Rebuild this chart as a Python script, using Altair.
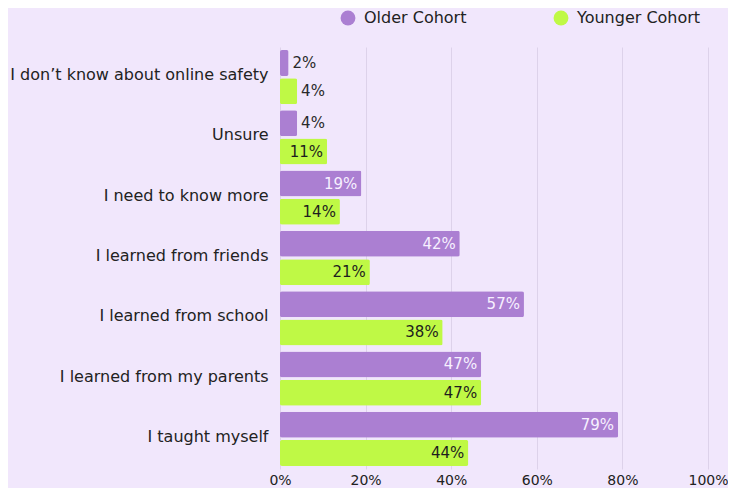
import altair as alt
import pandas as pd

categories = [
    "I don’t know about online safety",
    "Unsure",
    "I need to know more",
    "I learned from friends",
    "I learned from school",
    "I learned from my parents",
    "I taught myself",
]
older = [2, 4, 19, 42, 57, 47, 79]
younger = [4, 11, 14, 21, 38, 47, 44]
cohorts = ["Older Cohort", "Younger Cohort"]
x_ticks = [0, 20, 40, 60, 80, 100]

rows = []
for c, o, y in zip(categories, older, younger):
    rows.append({"category": c, "cohort": cohorts[0], "value": o})
    rows.append({"category": c, "cohort": cohorts[1], "value": y})
df = pd.DataFrame(rows)

FONT = "DejaVu Sans"
FS = 15
FS_L = 16
FS_X = 14
PURPLE = "#ab7fd2"
GREEN = "#bff945"
BG = "#f1e7fc"

base = alt.Chart(df).encode(
    y=alt.Y("category:N", sort=categories, title=None,
            scale=alt.Scale(paddingInner=0.1, paddingOuter=0.05),
            axis=alt.Axis(ticks=False, domain=False, labelFontSize=FS_L,
                          labelColor="#222222", labelPadding=12, labelFont=FONT,
                          labelLimit=300, labelOffset=-2)),
    yOffset=alt.YOffset("cohort:N", sort=cohorts,
                        scale=alt.Scale(paddingInner=0.08, paddingOuter=0)),
)

bars = base.mark_bar(cornerRadius=2).encode(
    x=alt.X("value:Q", scale=alt.Scale(domain=[0, 100]), title=None,
            axis=alt.Axis(values=x_ticks, labelExpr="datum.value + '%'",
                          ticks=False, domain=False, grid=True, labelFlush=False,
                          gridColor="#ddd2ea", labelFontSize=FS_X,
                          labelColor="#222222", labelFont=FONT, labelPadding=4)),
    color=alt.Color("cohort:N", sort=cohorts,
                    scale=alt.Scale(domain=cohorts, range=[PURPLE, GREEN]),
                    legend=alt.Legend(title=None, orient="none", direction="horizontal",
                                      legendX=60, legendY=-37, symbolType="circle",
                                      symbolSize=220, labelFontSize=FS_L, labelFont=FONT,
                                      labelColor="#222222", columnPadding=86,
                                      symbolStrokeWidth=0, labelOffset=8)),
)

inside = base.transform_filter("datum.value >= 10").mark_text(
    align="right", baseline="middle", dx=-4, fontSize=FS, font=FONT
).encode(
    x="value:Q",
    text=alt.Text("label:N"),
    color=alt.condition("datum.cohort == 'Older Cohort'",
                        alt.value("#f7f0ff"), alt.value("#1e1e1e")),
).transform_calculate(label="datum.value + '%'")

outside = base.transform_filter("datum.value < 10").mark_text(
    align="left", baseline="middle", dx=4, fontSize=FS, font=FONT, color="#2a2a2a"
).encode(
    x="value:Q",
    text=alt.Text("label:N"),
).transform_calculate(label="datum.value + '%'")

chart = alt.layer(bars, inside, outside).properties(
    width=428, height=422,
    background=BG,
    padding={"left": 272, "top": 39, "right": 20, "bottom": 19},
    autosize=alt.AutoSizeParams(type="none"),
).configure_view(stroke=None)

chart.save("out.html", embed_options={"renderer": "svg", "actions": False})
